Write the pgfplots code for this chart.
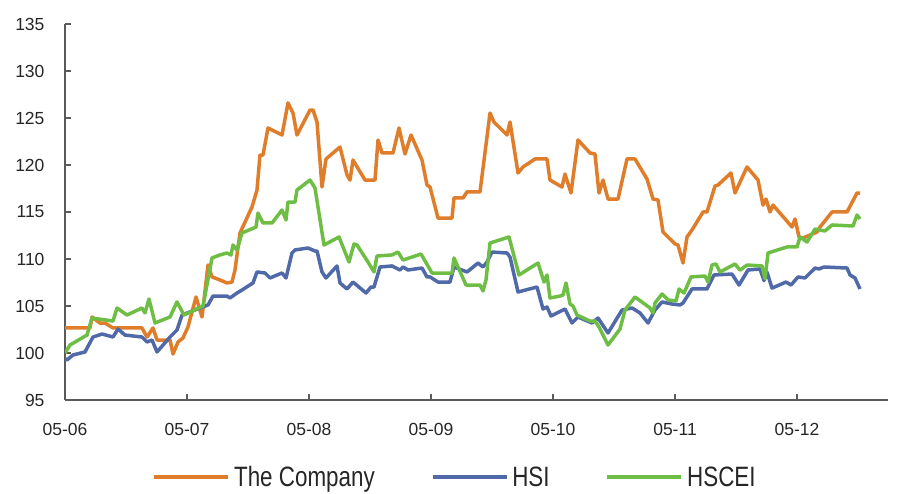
\documentclass[border=0pt]{standalone}
\usepackage{fontspec}
\setmainfont{Liberation Sans}
\newfontfamily\legfont[FakeStretch=0.8]{Liberation Sans}
\usepackage{pgfplots}
\pgfplotsset{compat=1.18}
\definecolor{corange}{RGB}{224,125,42}
\definecolor{cblue}{RGB}{80,105,168}
\definecolor{cgreen}{RGB}{110,190,70}
\definecolor{caxis}{RGB}{90,90,90}
\begin{document}
\begin{tikzpicture}
\useasboundingbox (-65pt,-94pt) rectangle (836pt,400pt);
\begin{axis}[
  at={(0pt,0pt)}, anchor=origin,
  scale only axis, width=823pt, height=376pt,
  xmin=0, xmax=823, ymin=95, ymax=135,
  axis lines=left,
  axis line style={-, caxis, line width=1.3pt},
  tick style={caxis, line width=1.1pt},
  tick align=inside, major tick length=6pt,
  xtick={0,122,244,366,488,610,732},
  xticklabels={05-06,05-07,05-08,05-09,05-10,05-11,05-12},
  ytick={95,100,...,135},
  /pgf/number format/assume math mode=true,
  ticklabel style={font=\fontsize{17.5}{20}\selectfont, text=black!85},
  xticklabel style={yshift=-20pt},
  yticklabel style={xshift=-17pt},
  legend style={draw=none, at={(0.474,-0.205)}, anchor=center,
    legend columns=-1, font=\legfont\fontsize{28}{32}\selectfont, text=black!85,
    /tikz/every odd column/.append style={column sep=2pt},
    /tikz/every even column/.append style={column sep=54pt}},
  legend image code/.code={\draw[#1] (0pt,0pt) -- (74pt,0pt);},
  every axis plot/.append style={line width=3.5pt, line join=round},
]
\addplot[corange] coordinates {
(0,102.66)(25,102.66)(27,103.83)(35,103.19)(40,103.19)(48,102.66)(77,102.66)(82,101.70)(88,102.66)(92,101.38)(105,101.38)(108,99.89)(113,101.17)(118,101.60)(123,102.77)(131,105.96)(137,103.83)(143,109.36)(147,108.09)(155,107.77)(162,107.45)(167,107.55)(170,108.83)(175,112.77)(187,115.53)(192,117.34)(195,121.06)(198,121.06)(203,123.94)(217,123.19)(223,126.6)(228,125.53)(232,123.19)(245,125.85)(248,125.85)(252,124.57)(257,117.66)(261,120.64)(275,121.91)(282,118.94)(285,118.40)(288,120.53)(300,118.40)(310,118.40)(313,122.66)(317,121.28)(328,121.28)(334,123.94)(340,121.17)(346,123.19)(357,120.53)(362,117.87)(365,117.66)(373,114.36)(387,114.36)(389,116.49)(398,116.49)(402,117.13)(415,117.13)(425,125.53)(429,124.57)(442,123.19)(445,124.57)(453,119.15)(458,119.79)(470,120.64)(482,120.64)(485,118.40)(497,117.66)(500,119.04)(506,117.02)(513,122.66)(525,121.28)(530,121.17)(534,117.02)(538,118.40)(543,116.38)(553,116.38)(562,120.64)(570,120.64)(582,118.51)(588,116.38)(593,116.28)(598,112.87)(610,111.6)(613,111.49)(618,109.57)(622,112.34)(627,113.09)(638,115.0)(642,115.0)(650,117.77)(653,117.87)(666,119.15)(670,117.02)(682,119.79)(693,118.40)(698,115.74)(701,116.38)(705,115.0)(708,115.74)(727,113.40)(730,114.26)(734,112.34)(738,112.23)(752,112.87)(755,113.40)(767,115.0)(782,115.0)(792,117.02)(795,117.02)
};
\addlegendentry{The Company}
\addplot[cblue] coordinates {
(0,99.4)(2,99.26)(8,99.79)(20,100.11)(28,101.70)(37,102.02)(48,101.70)(53,102.55)(60,101.91)(77,101.70)(82,101.17)(87,101.38)(92,100.11)(105,101.70)(112,102.45)(117,104.04)(135,104.79)(143,105.11)(148,106.06)(162,106.06)(165,105.85)(172,106.38)(177,106.70)(188,107.45)(192,108.62)(200,108.51)(205,107.98)(217,108.51)(221,107.98)(227,110.64)(230,110.96)(243,111.17)(250,110.85)(252,110.85)(257,108.62)(261,107.98)(272,109.26)(275,107.45)(282,106.81)(288,107.55)(301,106.38)(306,107.02)(309,107.02)(315,109.15)(327,109.26)(335,108.83)(338,109.15)(343,108.83)(357,109.04)(362,108.09)(365,108.09)(373,107.55)(385,107.55)(389,109.15)(402,108.62)(413,109.57)(418,109.15)(422,109.68)(427,110.74)(442,110.64)(445,110.21)(453,106.49)(472,107.02)(478,104.68)(482,104.89)(486,103.94)(500,104.68)(507,103.19)(513,103.83)(527,103.19)(533,103.72)(543,102.13)(557,104.57)(567,104.79)(575,104.26)(583,103.19)(590,104.57)(597,105.43)(607,105.21)(615,105.11)(618,105.32)(627,106.81)(642,106.81)(649,108.30)(667,108.40)(674,107.23)(683,108.83)(695,108.94)(699,107.7)(702,108.6)(707,106.9)(721,107.55)(726,107.23)(733,108.09)(740,107.98)(750,109.04)(754,108.94)(759,109.15)(782,109.04)(785,108.30)(790,107.98)(795,106.81)
};
\addlegendentry{HSI}
\addplot[cgreen] coordinates {
(0,100.0)(5,100.85)(22,101.91)(27,103.72)(48,103.40)(52,104.79)(62,104.04)(77,104.79)(80,104.26)(84,105.74)(90,103.19)(105,103.83)(112,105.43)(119,104.04)(138,105.0)(147,110.11)(155,110.43)(162,110.64)(166,110.43)(168,111.49)(172,110.96)(177,112.77)(191,113.40)(193,114.89)(198,113.83)(207,113.83)(217,115.21)(221,114.15)(223,116.06)(230,116.06)(232,117.34)(245,118.40)(250,117.55)(259,111.49)(274,112.34)(284,109.68)(289,111.60)(292,111.49)(303,109.68)(309,108.62)(312,110.32)(327,110.43)(333,110.74)(338,109.89)(356,110.53)(367,108.51)(387,108.51)(389,110.11)(401,107.23)(415,107.23)(418,106.60)(421,107.77)(425,111.70)(444,112.34)(454,108.30)(473,109.57)(479,107.55)(482,108.30)(485,105.85)(495,106.06)(498,106.17)(501,107.45)(505,105.21)(508,105.0)(512,104.04)(525,103.40)(530,103.40)(534,102.77)(543,100.85)(555,102.55)(560,104.57)(570,105.96)(585,104.79)(588,104.26)(590,105.32)(597,106.28)(603,105.64)(611,105.53)(614,106.81)(619,106.38)(626,108.09)(640,108.19)(643,107.55)(647,109.36)(651,109.47)(655,108.62)(670,109.47)(675,108.81)(682,109.36)(697,109.26)(700,107.9)(703,110.64)(722,111.28)(732,111.28)(735,112.34)(742,111.81)(750,113.19)(760,112.98)(767,113.62)(788,113.51)(792,114.68)(795,114.26)
};
\addlegendentry{HSCEI}
\end{axis}
\end{tikzpicture}
\end{document}
